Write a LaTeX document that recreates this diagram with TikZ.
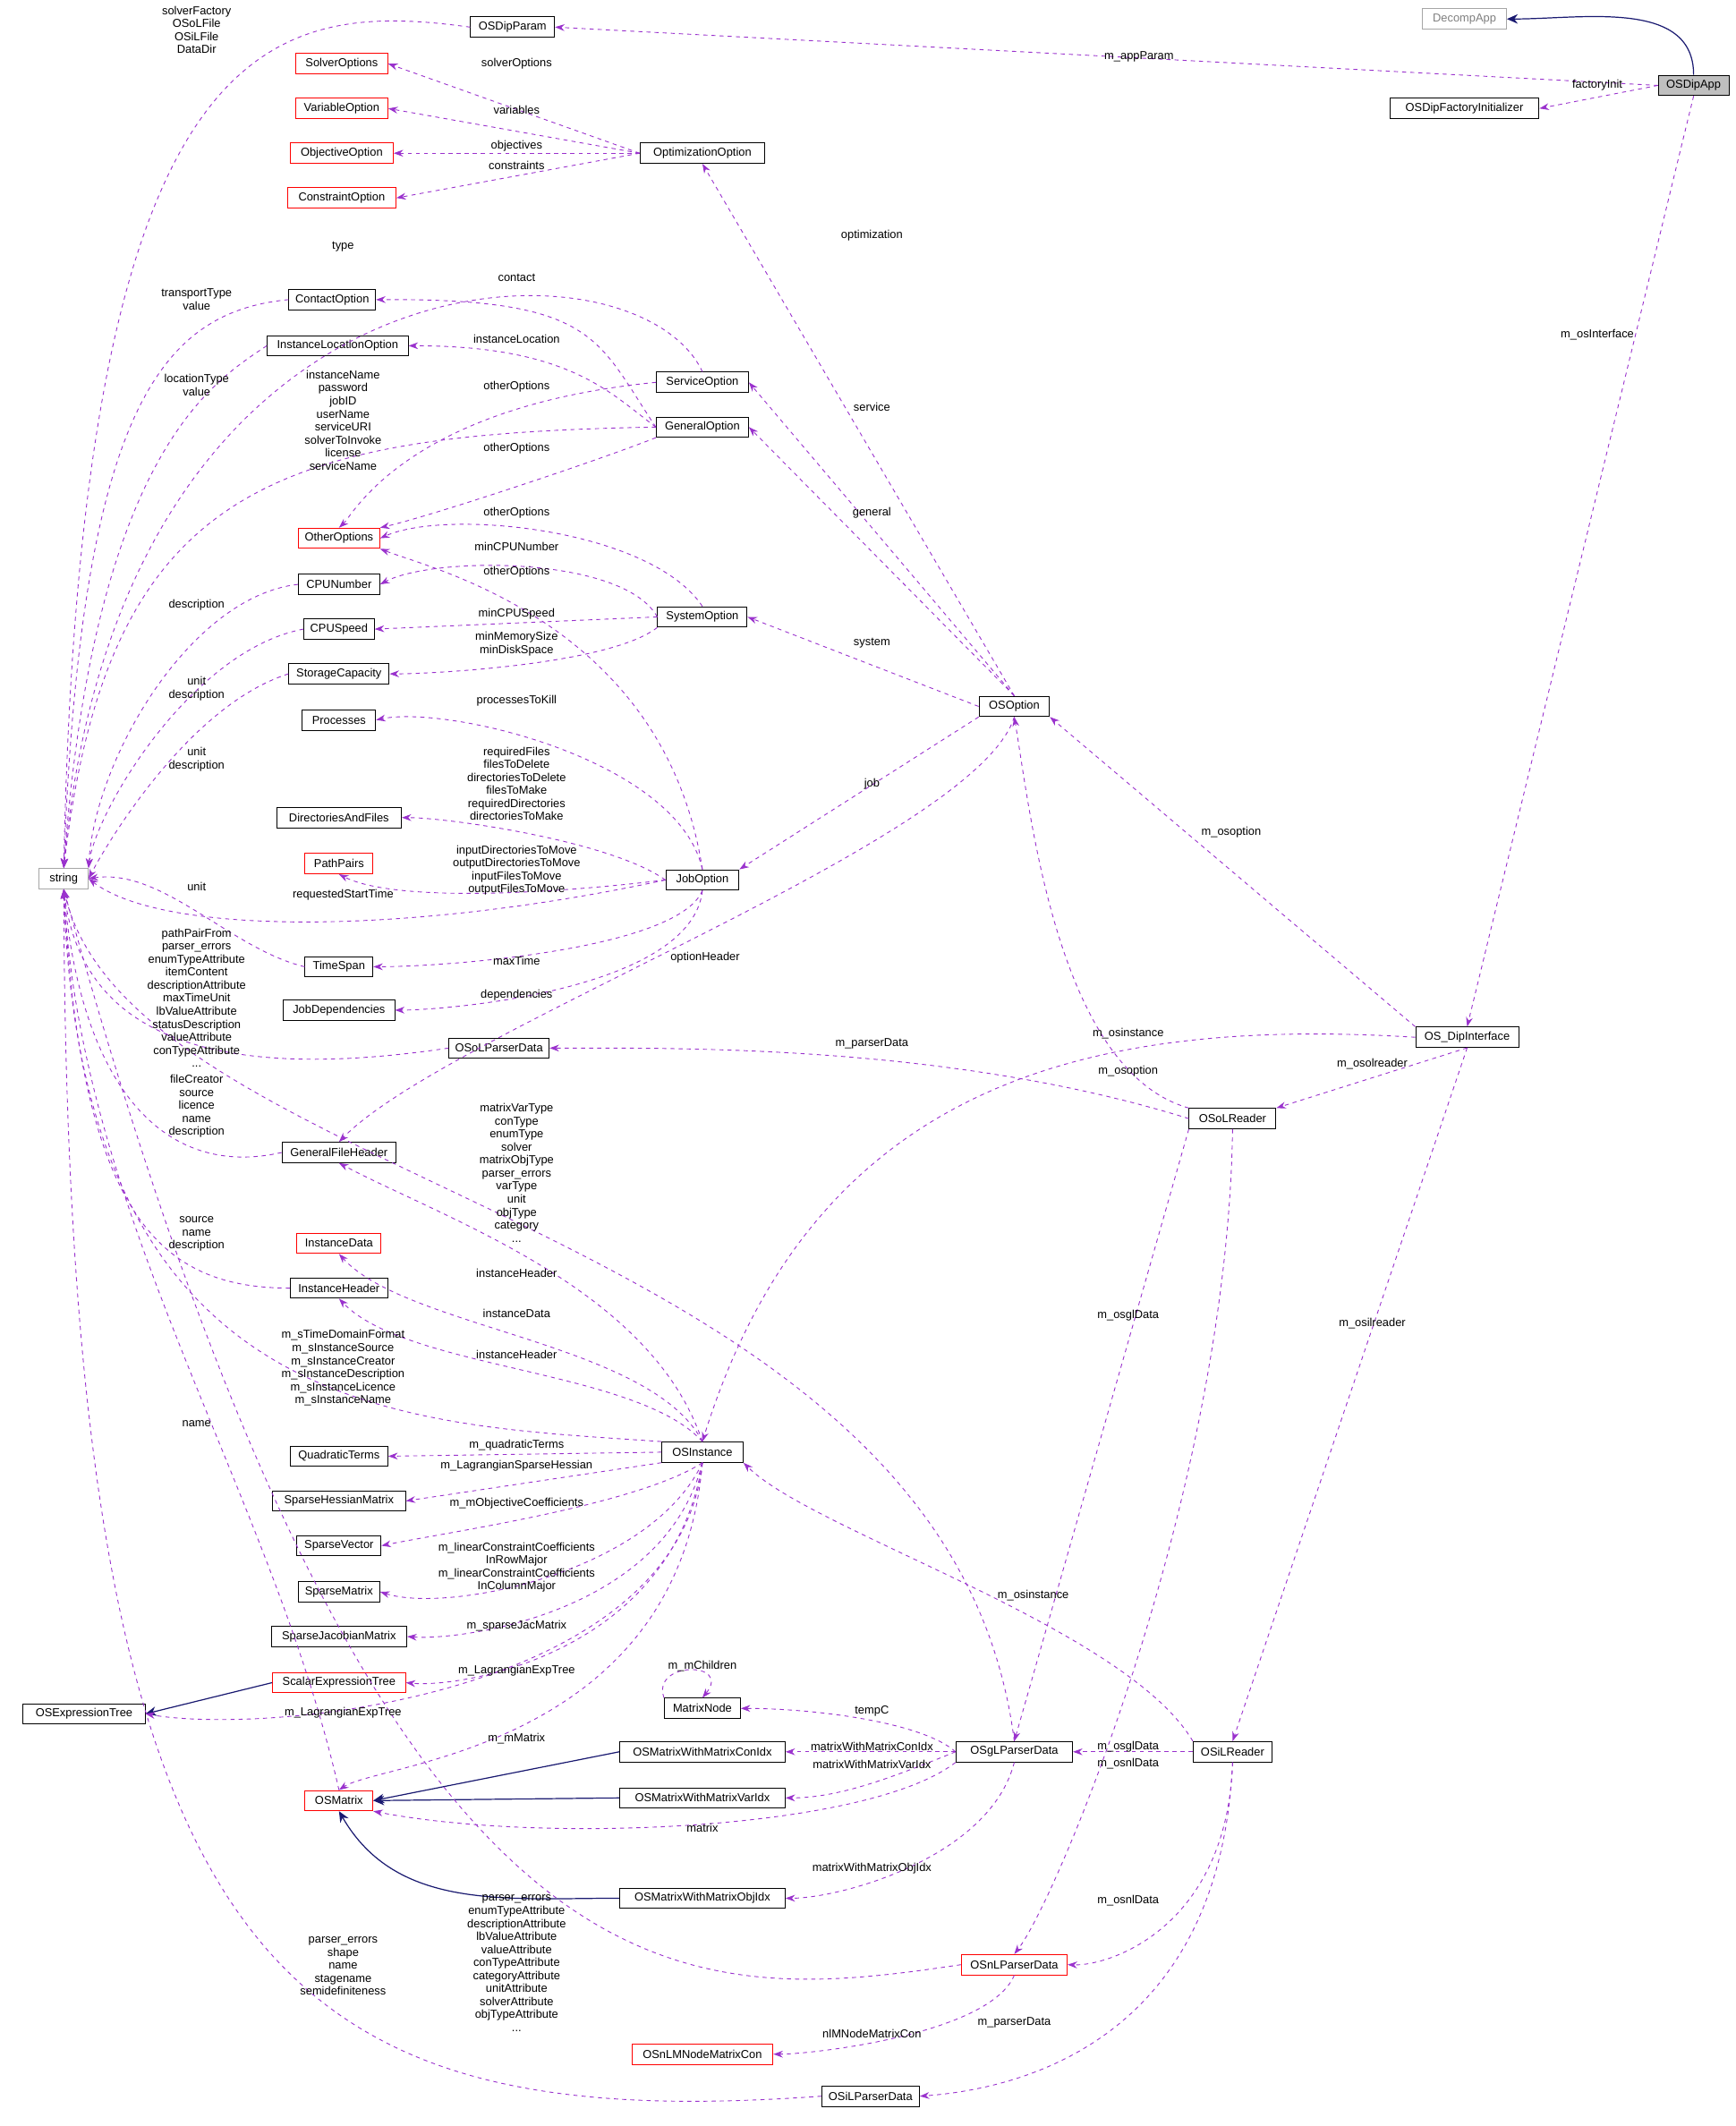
\documentclass[tikz,border=0pt]{standalone}
\usepackage{fontspec}
\setmainfont{Liberation Sans}
\usetikzlibrary{arrows.meta}
\definecolor{dep}{HTML}{9A32CD}
\definecolor{inh}{HTML}{191970}
\begin{document}
\begin{tikzpicture}[x=1pt,y=-1pt,
 box/.style={draw=black,line width=0.6pt,fill=white,font=\fontsize{8.5}{10}\selectfont,inner sep=0pt,minimum height=15,text width=#1,align=center},
 box/.default=80,
 rbox/.style={box=#1,draw=red},
 gbox/.style={box=#1,draw=gray!70},
 dd/.style={draw=dep,dashed,line width=0.6pt,-{Stealth[length=7pt,width=5pt]}},
 ih/.style={draw=inh,line width=0.8pt,-{Stealth[length=8pt,width=7pt]}},
 lb/.style={font=\fontsize{8.5}{9.6}\selectfont,align=center,inner sep=0pt}]
\useasboundingbox (0,0) rectangle (1280,1568);
% nodes
\node[gbox=62,text=gray] (decomp) at (1080,14) {DecompApp};
\node[box=52,fill=gray!50] (dipapp) at (1249,63) {OSDipApp};
\node[box=62] (dipparam) at (378,20) {OSDipParam};
\node[box=110] (factory) at (1080,80) {OSDipFactoryInitializer};
\node[rbox=68] (solveropt) at (252,47) {SolverOptions};
\node[rbox=68] (varopt) at (252,80) {VariableOption};
\node[rbox=76] (objopt) at (252,113) {ObjectiveOption};
\node[rbox=80] (conopt) at (252,146) {ConstraintOption};
\node[box=92] (optopt) at (518,113) {OptimizationOption};
\node[box=64] (contact) at (245,221) {ContactOption};
\node[box=104] (instloc) at (249,255) {InstanceLocationOption};
\node[box=68] (service) at (518,282) {ServiceOption};
\node[box=68] (general) at (518,315) {GeneralOption};
\node[rbox=60] (other) at (250,397) {OtherOptions};
\node[box=60] (cpunum) at (250,431) {CPUNumber};
\node[box=52] (cpuspeed) at (250,464) {CPUSpeed};
\node[box=74] (storage) at (250,497) {StorageCapacity};
\node[box=66] (system) at (518,455) {SystemOption};
\node[box=54] (processes) at (250,531) {Processes};
\node[box=52] (osoption) at (748,521) {OSOption};
\node[box=92] (dirfiles) at (250,603) {DirectoriesAndFiles};
\node[rbox=50] (pathpairs) at (250,637) {PathPairs};
\node[gbox=36] (string) at (47,648) {string};
\node[box=54] (job) at (518,649) {JobOption};
\node[box=50] (timespan) at (250,713) {TimeSpan};
\node[box=82] (jobdep) at (250,745) {JobDependencies};
\node[box=74] (olparser) at (368,773) {OSoLParserData};
\node[box=76] (dipint) at (1082,765) {OS\_DipInterface};
\node[box=64] (olreader) at (909,825) {OSoLReader};
\node[box=84] (gfh) at (250,850) {GeneralFileHeader};
\node[rbox=62] (instdata) at (250,917) {InstanceData};
\node[box=72] (insthead) at (250,950) {InstanceHeader};
\node[box=60] (osinst) at (518,1071) {OSInstance};
\node[box=72] (quad) at (250,1074) {QuadraticTerms};
\node[box=98] (hess) at (250,1107) {SparseHessianMatrix};
\node[box=62] (svec) at (250,1140) {SparseVector};
\node[box=60] (smat) at (250,1174) {SparseMatrix};
\node[box=100] (sjac) at (250,1207) {SparseJacobianMatrix};
\node[rbox=98] (scalar) at (250,1241) {ScalarExpressionTree};
\node[box=90] (exptree) at (62,1264) {OSExpressionTree};
\node[box=56] (mnode) at (518,1260) {MatrixNode};
\node[box=122] (conidx) at (518,1292) {OSMatrixWithMatrixConIdx};
\node[box=122] (varidx) at (518,1326) {OSMatrixWithMatrixVarIdx};
\node[rbox=50] (osmatrix) at (250,1328) {OSMatrix};
\node[box=86] (glparser) at (748,1292) {OSgLParserData};
\node[box=58] (ilreader) at (909,1292) {OSiLReader};
\node[box=122] (objidx) at (518,1400) {OSMatrixWithMatrixObjIdx};
\node[rbox=78] (nlparser) at (748,1449) {OSnLParserData};
\node[rbox=104] (nlmcon) at (518,1515) {OSnLMNodeMatrixCon};
\node[box=72] (ilparser) at (642,1546) {OSiLParserData};
% inheritance
\draw[ih] (dipapp.north) to[out=90,in=0] (decomp.east);
\draw[ih] (scalar.west) -- (exptree.east);
\draw[ih] (conidx.west) -- (osmatrix.east);
\draw[ih] (varidx.west) -- (osmatrix.east);
\draw[ih] (objidx.west) to[out=180,in=-60] (osmatrix.south);
% dependencies
\draw[dd] (dipapp.west) -- (dipparam.east);
\draw[dd] (dipapp.west) -- (factory.east);
\draw[dd] (dipapp.south) -- (dipint.north);
\draw[dd] (dipparam.west) .. controls (200,0) and (60,20) .. (string.north);
\draw[dd] (optopt.west) -- (solveropt.east);
\draw[dd] (optopt.west) -- (varopt.east);
\draw[dd] (optopt.west) -- (objopt.east);
\draw[dd] (optopt.west) -- (conopt.east);
\draw[dd] (osoption.north) -- (optopt.south);
\draw[dd] (service.north) .. controls (470,170) and (90,170) .. (string.north);
\draw[dd] (contact.west) .. controls (120,230) and (60,300) .. (string.north);
\draw[dd] (general.west) .. controls (440,250) and (440,220) .. (contact.east);
\draw[dd] (instloc.west) .. controls (160,280) and (70,330) .. (string.north);
\draw[dd] (general.west) .. controls (450,290) and (420,255) .. (instloc.east);
\draw[dd] (service.west) .. controls (300,300) and (260,380) .. (other.north);
\draw[dd] (general.west) .. controls (200,320) and (80,360) .. (string.north);
\draw[dd] (general.south west) .. controls (440,340) and (320,380) .. (other.north east);
\draw[dd] (osoption.north) -- (service.east);
\draw[dd] (osoption.north) -- (general.east);
\draw[dd] (system.north) .. controls (480,390) and (330,375) .. (other.east);
\draw[dd] (system.west) .. controls (460,410) and (320,410) .. (cpunum.east);
\draw[dd] (job.north) .. controls (490,460) and (320,420) .. (other.south east);
\draw[dd] (system.west) -- (cpuspeed.east);
\draw[dd] (system.south west) .. controls (450,490) and (320,497) .. (storage.east);
\draw[dd] (osoption.west) -- (system.east);
\draw[dd] (cpunum.west) .. controls (140,440) and (70,560) .. (string.north east);
\draw[dd] (cpuspeed.west) .. controls (140,480) and (70,600) .. (string.north east);
\draw[dd] (storage.west) .. controls (140,520) and (80,620) .. (string.east);
\draw[dd] (job.north) .. controls (500,560) and (330,520) .. (processes.east);
\draw[dd] (osoption.south west) -- (job.north east);
\draw[dd] (job.west) .. controls (450,620) and (330,603) .. (dirfiles.east);
\draw[dd] (job.west) .. controls (400,660) and (290,665) .. (pathpairs.south);
\draw[dd] (job.west) .. controls (300,690) and (120,690) .. (string.east);
\draw[dd] (timespan.west) .. controls (170,700) and (120,640) .. (string.east);
\draw[dd] (job.south) .. controls (500,700) and (330,713) .. (timespan.east);
\draw[dd] (job.south) .. controls (510,730) and (330,745) .. (jobdep.east);
\draw[dd] (osoption.south) .. controls (720,620) and (330,760) .. (gfh.north);
\draw[dd] (olparser.west) .. controls (150,800) and (60,760) .. (string.south);
\draw[dd] (olreader.west) .. controls (700,770) and (500,773) .. (olparser.east);
\draw[dd] (olreader.north west) .. controls (780,790) and (760,600) .. (osoption.south);
\draw[dd] (dipint.north west) -- (osoption.south east);
\draw[dd] (dipint.west) .. controls (800,750) and (600,800) .. (osinst.north);
\draw[dd] (dipint.south) -- (olreader.north east);
\draw[dd] (dipint.south) -- (ilreader.north);
\draw[dd] (gfh.west) .. controls (120,870) and (60,800) .. (string.south);
\draw[dd] (osinst.north) .. controls (480,950) and (330,900) .. (gfh.south);
\draw[dd] (osinst.north) .. controls (480,990) and (300,980) .. (instdata.south);
\draw[dd] (osinst.north) .. controls (470,1010) and (300,1010) .. (insthead.south);
\draw[dd] (glparser.north) .. controls (700,900) and (100,880) .. (string.south);
\draw[dd] (insthead.west) .. controls (120,950) and (60,900) .. (string.south);
\draw[dd] (osinst.north west) .. controls (300,1050) and (60,1050) .. (string.south);
\draw[dd] (osinst.west) -- (quad.east);
\draw[dd] (osinst.south west) -- (hess.east);
\draw[dd] (osinst.south) .. controls (470,1110) and (330,1130) .. (svec.east);
\draw[dd] (osinst.south) .. controls (480,1160) and (330,1190) .. (smat.east);
\draw[dd] (osinst.south) .. controls (490,1190) and (340,1210) .. (sjac.east);
\draw[dd] (osinst.south) .. controls (495,1220) and (340,1245) .. (scalar.east);
\draw[dd] (osinst.south) .. controls (500,1250) and (200,1280) .. (exptree.east);
\draw[dd] (osinst.south) .. controls (500,1290) and (280,1300) .. (osmatrix.north);
\draw[dd] (osmatrix.north) .. controls (200,1100) and (60,900) .. (string.south);
\draw[dd] (mnode.north west) .. controls (480,1225) and (540,1225) .. (mnode.north);
\draw[dd] (glparser.west) .. controls (680,1270) and (600,1260) .. (mnode.east);
\draw[dd] (glparser.west) -- (conidx.east);
\draw[dd] (glparser.west) .. controls (660,1310) and (620,1326) .. (varidx.east);
\draw[dd] (glparser.south west) .. controls (640,1350) and (400,1360) .. (osmatrix.south east);
\draw[dd] (glparser.south) .. controls (730,1370) and (620,1400) .. (objidx.east);
\draw[dd] (olreader.south west) -- (glparser.north);
\draw[dd] (ilreader.west) -- (glparser.east);
\draw[dd] (olreader.south) .. controls (905,1100) and (780,1400) .. (nlparser.north);
\draw[dd] (ilreader.south) .. controls (905,1420) and (820,1450) .. (nlparser.east);
\draw[dd] (ilreader.north west) .. controls (830,1200) and (600,1130) .. (osinst.south east);
\draw[dd] (nlparser.west) .. controls (500,1480) and (280,1500) .. (string.south);
\draw[dd] (nlparser.south) .. controls (730,1500) and (600,1515) .. (nlmcon.east);
\draw[dd] (ilreader.south) .. controls (900,1500) and (760,1540) .. (ilparser.east);
\draw[dd] (ilparser.west) .. controls (200,1575) and (50,1450) .. (string.south);
% labels
\node[lb] at (840,42) {m\_appParam};
\node[lb] at (1178,63) {factoryInit};
\node[lb] at (1178,247) {m\_osInterface};
\node[lb] at (145,22) {solverFactory\\OSoLFile\\OSiLFile\\DataDir};
\node[lb] at (381,47) {solverOptions};
\node[lb] at (381,81) {variables};
\node[lb] at (381,108) {objectives};
\node[lb] at (381,122) {constraints};
\node[lb] at (643,174) {optimization};
\node[lb] at (253,182) {type};
\node[lb] at (145,221) {transportType\\value};
\node[lb] at (381,205) {contact};
\node[lb] at (145,284) {locationType\\value};
\node[lb] at (381,250) {instanceLocation};
\node[lb] at (381,285) {otherOptions};
\node[lb] at (253,310) {instanceName\\password\\jobID\\userName\\serviceURI\\solverToInvoke\\license\\serviceName};
\node[lb] at (381,331) {otherOptions};
\node[lb] at (643,300) {service};
\node[lb] at (643,378) {general};
\node[lb] at (381,378) {otherOptions};
\node[lb] at (381,403) {minCPUNumber};
\node[lb] at (381,422) {otherOptions};
\node[lb] at (381,453) {minCPUSpeed};
\node[lb] at (381,475) {minMemorySize\\minDiskSpace};
\node[lb] at (643,474) {system};
\node[lb] at (145,446) {description};
\node[lb] at (145,508) {unit\\description};
\node[lb] at (145,560) {unit\\description};
\node[lb] at (381,517) {processesToKill};
\node[lb] at (643,578) {job};
\node[lb] at (381,578) {requiredFiles\\filesToDelete\\directoriesToDelete\\filesToMake\\requiredDirectories\\directoriesToMake};
\node[lb] at (381,642) {inputDirectoriesToMove\\outputDirectoriesToMove\\inputFilesToMove\\outputFilesToMove};
\node[lb] at (253,660) {requestedStartTime};
\node[lb] at (145,654) {unit};
\node[lb] at (381,709) {maxTime};
\node[lb] at (381,734) {dependencies};
\node[lb] at (520,706) {optionHeader};
\node[lb] at (145,736) {pathPairFrom\\parser\_errors\\enumTypeAttribute\\itemContent\\descriptionAttribute\\maxTimeUnit\\lbValueAttribute\\statusDescription\\valueAttribute\\conTypeAttribute\\...};
\node[lb] at (643,770) {m\_parserData};
\node[lb] at (832,790) {m\_osoption};
\node[lb] at (908,614) {m\_osoption};
\node[lb] at (832,762) {m\_osinstance};
\node[lb] at (1012,785) {m\_osolreader};
\node[lb] at (1012,976) {m\_osilreader};
\node[lb] at (145,816) {fileCreator\\source\\licence\\name\\description};
\node[lb] at (381,865) {matrixVarType\\conType\\enumType\\solver\\matrixObjType\\parser\_errors\\varType\\unit\\objType\\category\\...};
\node[lb] at (381,939) {instanceHeader};
\node[lb] at (381,969) {instanceData};
\node[lb] at (381,999) {instanceHeader};
\node[lb] at (145,910) {source\\name\\description};
\node[lb] at (253,1009) {m\_sTimeDomainFormat\\m\_sInstanceSource\\m\_sInstanceCreator\\m\_sInstanceDescription\\m\_sInstanceLicence\\m\_sInstanceName};
\node[lb] at (145,1050) {name};
\node[lb] at (381,1066) {m\_quadraticTerms};
\node[lb] at (381,1081) {m\_LagrangianSparseHessian};
\node[lb] at (381,1109) {m\_mObjectiveCoefficients};
\node[lb] at (381,1156) {m\_linearConstraintCoefficients\\InRowMajor\\m\_linearConstraintCoefficients\\InColumnMajor};
\node[lb] at (381,1199) {m\_sparseJacMatrix};
\node[lb] at (381,1232) {m\_LagrangianExpTree};
\node[lb] at (253,1263) {m\_LagrangianExpTree};
\node[lb] at (381,1282) {m\_mMatrix};
\node[lb] at (518,1229) {m\_mChildren};
\node[lb] at (643,1262) {tempC};
\node[lb] at (643,1288) {matrixWithMatrixConIdx};
\node[lb] at (643,1301) {matrixWithMatrixVarIdx};
\node[lb] at (518,1348) {matrix};
\node[lb] at (643,1378) {matrixWithMatrixObjIdx};
\node[lb] at (832,970) {m\_osglData};
\node[lb] at (832,1288) {m\_osglData};
\node[lb] at (832,1301) {m\_osnlData};
\node[lb] at (832,1402) {m\_osnlData};
\node[lb] at (762,1177) {m\_osinstance};
\node[lb] at (381,1448) {parser\_errors\\enumTypeAttribute\\descriptionAttribute\\lbValueAttribute\\valueAttribute\\conTypeAttribute\\categoryAttribute\\unitAttribute\\solverAttribute\\objTypeAttribute\\...};
\node[lb] at (643,1500) {nlMNodeMatrixCon};
\node[lb] at (748,1492) {m\_parserData};
\node[lb] at (253,1450) {parser\_errors\\shape\\name\\stagename\\semidefiniteness};
\end{tikzpicture}
\end{document}
